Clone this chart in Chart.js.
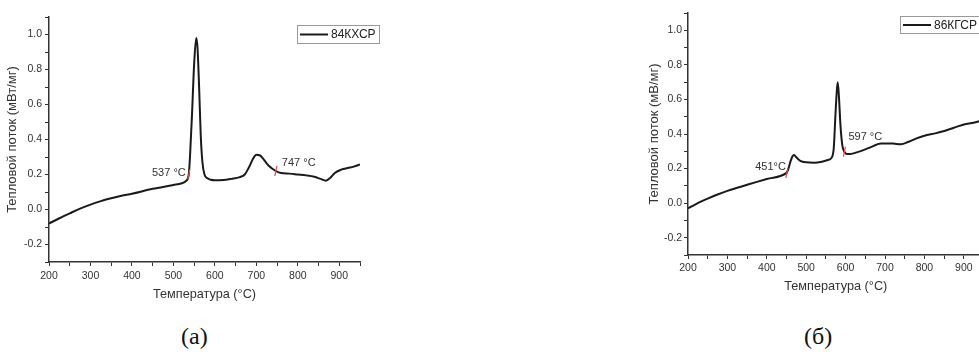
<!DOCTYPE html>
<html>
<head>
<meta charset="utf-8">
<script src="https://cdn.jsdelivr.net/npm/chart.js@4.4.1/dist/chart.umd.min.js"></script>
<style>
  html, body { margin: 0; padding: 0; background: #fff; overflow: hidden; }
  body { width: 979px; height: 352px; position: relative; }
  .box { position: absolute; }
  .cap { position: absolute; font-family: "Liberation Serif", "Times New Roman", serif; font-size: 24px; color: #111; }
</style>
</head>
<body>
<div class="box" style="left:0;top:0;width:385px;height:310px"><canvas id="chartA" width="385" height="310"></canvas></div>
<div class="box" style="left:640px;top:0;width:370px;height:300px"><canvas id="chartB" width="370" height="300"></canvas></div>
<div class="cap" style="left:181px;top:323px">(а)</div>
<div class="cap" style="left:804px;top:323px">(б)</div>
<script>
// (а) 84КХСР
var tempA = [200, 225, 250, 275, 300, 325, 350, 375, 400, 450, 500, 520, 530, 537, 540, 545, 550, 555, 558, 562, 566, 570, 575, 582, 590, 600, 620, 640, 660, 672, 682, 692, 700, 708, 718, 730, 747, 760, 780, 800, 820, 840, 855, 868, 878, 890, 905, 920, 935, 950];
var flowA = [-0.08, -0.05, -0.022, 0.005, 0.028, 0.048, 0.064, 0.078, 0.09, 0.118, 0.14, 0.15, 0.162, 0.2, 0.3, 0.55, 0.83, 0.98, 0.93, 0.7, 0.42, 0.27, 0.2, 0.178, 0.17, 0.167, 0.168, 0.175, 0.185, 0.2, 0.24, 0.29, 0.313, 0.31, 0.285, 0.25, 0.22, 0.208, 0.205, 0.2, 0.195, 0.187, 0.175, 0.165, 0.18, 0.21, 0.228, 0.237, 0.245, 0.257];
var markTempA = [537, 747];
var markFlowA = [0.2, 0.22];
var markTextA = ['537 °C', '747 °C'];

// (б) 86КГСР
var tempB = [200, 225, 250, 275, 300, 350, 400, 450, 451, 455, 460, 465, 469, 475, 485, 500, 520, 540, 555, 565, 570, 574, 578, 580, 583, 587, 592, 597, 603, 612, 630, 660, 690, 720, 740, 760, 780, 800, 830, 860, 880, 900, 925, 950];
var flowB = [-0.03, 0.0, 0.026, 0.05, 0.071, 0.106, 0.14, 0.175, 0.178, 0.2, 0.24, 0.27, 0.278, 0.265, 0.245, 0.236, 0.234, 0.24, 0.25, 0.265, 0.32, 0.5, 0.66, 0.7, 0.62, 0.45, 0.33, 0.297, 0.285, 0.285, 0.295, 0.32, 0.345, 0.345, 0.34, 0.355, 0.375, 0.39, 0.405, 0.425, 0.44, 0.455, 0.465, 0.48];
var markTempB = [451, 597];
var markFlowB = [0.175, 0.298];
var markTextB = ['451°C', '597 °C'];

var FONT = '"Liberation Sans", Arial, sans-serif';

function pts(t, v) {
  var out = [];
  for (var i = 0; i < t.length; i++) out.push({x: t[i], y: v[i]});
  return out;
}

// red onset ticks + their labels
var marksPlugin = {
  id: 'marks',
  afterDatasetsDraw: function(chart, args, o) {
    var ctx = chart.ctx, xs = chart.scales.x, ys = chart.scales.y;
    ctx.save();
    for (var i = 0; i < o.temps.length; i++) {
      var px = xs.getPixelForValue(o.temps[i]);
      var py = ys.getPixelForValue(o.flows[i]);
      ctx.strokeStyle = '#e8474c';
      ctx.lineWidth = 1.2;
      ctx.beginPath();
      ctx.moveTo(px - 1, py + 5);
      ctx.lineTo(px + 1, py - 5);
      ctx.stroke();
      ctx.fillStyle = '#333';
      ctx.font = '11px ' + FONT;
      ctx.textBaseline = 'middle';
      ctx.textAlign = o.align[i];
      ctx.fillText(o.texts[i], px + o.dx[i], py + o.dy[i]);
    }
    ctx.restore();
  }
};

// Origin-style boxed legend
var boxLegend = {
  id: 'boxLegend',
  afterDraw: function(chart, args, o) {
    var ctx = chart.ctx;
    ctx.save();
    ctx.strokeStyle = '#999';
    ctx.lineWidth = 1;
    ctx.strokeRect(o.x + 0.5, o.y + 0.5, o.w, o.h);
    ctx.strokeStyle = '#1a1a1a';
    ctx.lineWidth = 2;
    ctx.beginPath();
    ctx.moveTo(o.x + 3, o.y + o.h / 2 + 0.5);
    ctx.lineTo(o.x + 31, o.y + o.h / 2 + 0.5);
    ctx.stroke();
    ctx.fillStyle = '#222';
    ctx.font = '12px ' + FONT;
    ctx.textBaseline = 'middle';
    ctx.textAlign = 'left';
    ctx.fillText(o.text, o.x + 34, o.y + o.h / 2 + 1);
    ctx.restore();
  }
};

function makeChart(id, t, v, yTitle, cfg) {
  return new Chart(document.getElementById(id), {
    type: 'line',
    data: {
      datasets: [{
        data: pts(t, v),
        borderColor: '#1a1a1a',
        borderWidth: 2,
        pointRadius: 0,
        cubicInterpolationMode: 'monotone',
        fill: false
      }]
    },
    options: {
      responsive: false,
      animation: false,
      layout: { padding: { top: cfg.padTop, right: cfg.padRight, bottom: cfg.padBottom, left: 0 } },
      plugins: {
        legend: { display: false },
        tooltip: { enabled: false },
        marks: cfg.marks,
        boxLegend: cfg.legend
      },
      scales: {
        x: {
          type: 'linear',
          min: 200, max: 950,
          ticks: {
            stepSize: 50,
            autoSkip: false,
            maxRotation: 0,
            padding: cfg.xPad,
            color: '#333',
            font: { family: FONT, size: 10.5 },
            callback: function(val) { return val % 100 === 0 ? String(val) : ''; }
          },
          grid: { drawOnChartArea: false, tickLength: 4, color: '#333', lineWidth: 1 },
          border: { color: '#333', width: 1.5 },
          title: { display: true, text: 'Температура (°C)', color: '#333', font: { family: FONT, size: 12.7 }, padding: { top: 2, bottom: 2 } },
          afterFit: function(s) { s.height = cfg.xHeight; }
        },
        y: {
          min: -0.3, max: 1.1,
          ticks: {
            stepSize: 0.1,
            autoSkip: false,
            padding: cfg.yPad,
            color: '#333',
            font: { family: FONT, size: 10.5 },
            callback: function(val) {
              var k = Math.round(val * 10);
              return k % 2 === 0 ? (k / 10).toFixed(1) : '';
            }
          },
          grid: { drawOnChartArea: false, tickLength: 4, color: '#333', lineWidth: 1 },
          border: { color: '#333', width: 1.5 },
          title: { display: true, text: yTitle, color: '#333', font: { family: FONT, size: 13 }, padding: { top: cfg.yTitlePad, bottom: 2 } },
          afterFit: function(s) { s.width = cfg.yWidth; }
        }
      }
    },
    plugins: [marksPlugin, boxLegend]
  });
}

makeChart('chartA', tempA, flowA, 'Тепловой поток (мВт/мг)', {
  padTop: 17, padRight: 25, padBottom: 6, xHeight: 42, yWidth: 49, xPad: 4, yPad: 3, yTitlePad: 5,
  marks: { temps: markTempA, flows: markFlowA, texts: markTextA, align: ['right', 'left'], dx: [-3, 6], dy: [-2, -8] },
  legend: { x: 297, y: 25, w: 82, h: 18, text: '84КХСР' }
});

makeChart('chartB', tempB, flowB, 'Тепловой поток (мВ/мг)', {
  padTop: 13, padRight: 26.5, padBottom: 4, xHeight: 41, yWidth: 48, xPad: 3, yPad: 2, yTitlePad: 7,
  marks: { temps: markTempB, flows: markFlowB, texts: markTextB, align: ['right', 'left'], dx: [-1, 4], dy: [-6, -15] },
  legend: { x: 260, y: 16, w: 82, h: 17, text: '86КГСР' }
});
</script>
</body>
</html>
